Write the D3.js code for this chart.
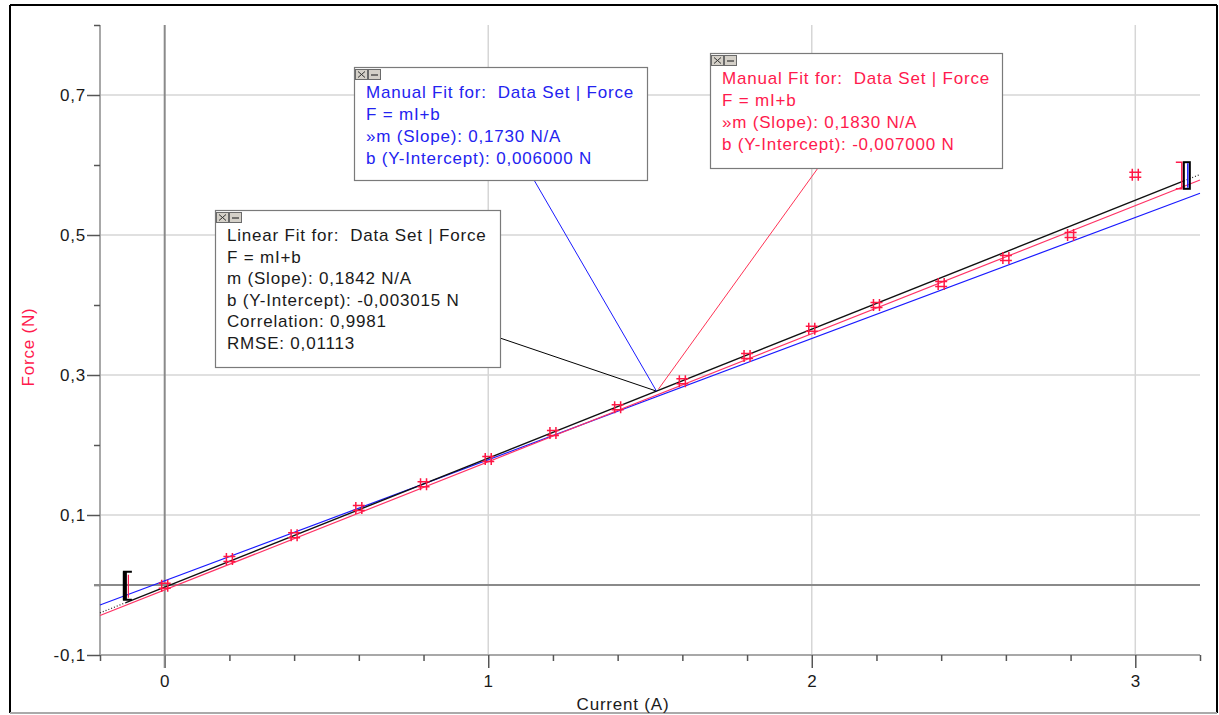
<!DOCTYPE html>
<html>
<head>
<meta charset="utf-8">
<script src="https://cdn.jsdelivr.net/npm/d3@7"></script>
<style>
  html, body { margin: 0; padding: 0; background: #ffffff; }
  svg { display: block; font-family: "Liberation Sans", Arial, sans-serif; }
</style>
</head>
<body>
<svg id="chart" width="1219" height="715"></svg>
<script>
// ---------- data ----------
const currents = [0, 0.2, 0.4, 0.6, 0.8, 1.0, 1.2, 1.4, 1.6, 1.8, 2.0, 2.2, 2.4, 2.6, 2.8, 3.0];
const forces   = [-0.001, 0.037, 0.071, 0.110, 0.144, 0.180, 0.217, 0.254, 0.291, 0.327, 0.366, 0.400, 0.430, 0.467, 0.500, 0.586];

const xMajorTicks = [0, 1, 2, 3];
const xMinorTicks = [-0.2, 0.2, 0.4, 0.6, 0.8, 1.2, 1.4, 1.6, 1.8, 2.2, 2.4, 2.6, 2.8, 3.2];
const yMajorTicks = [-0.1, 0.1, 0.3, 0.5, 0.7];
const yMinorTicks = [0, 0.2, 0.4, 0.6, 0.8];

// fits: slope m, intercept b
const fitLinear = { m: 0.1842, b: -0.003015 };
const fitBlue   = { m: 0.1730, b: 0.006 };
const fitRed    = { m: 0.1830, b: -0.007 };
const fitRange  = [-0.12, 3.15];       // bracket x positions (A)
const bracketYs = [[-0.021, 0.019], [0.566, 0.604]];
const pointerX  = 1.52;

const linearText = ["Linear Fit for:  Data Set | Force", "F = mI+b", "m (Slope): 0,1842 N/A",
  "b (Y-Intercept): -0,003015 N", "Correlation: 0,9981", "RMSE: 0,01113"];
const blueText = ["Manual Fit for:  Data Set | Force", "F = mI+b", "\u00bbm (Slope): 0,1730 N/A",
  "b (Y-Intercept): 0,006000 N"];
const redText = ["Manual Fit for:  Data Set | Force", "F = mI+b", "\u00bbm (Slope): 0,1830 N/A",
  "b (Y-Intercept): -0,007000 N"];

// ---------- setup ----------
const svg = d3.select("#chart");
const x = d3.scaleLinear().domain([-0.2, 3.2]).range([100, 1200]);
const y = d3.scaleLinear().domain([-0.1, 0.8]).range([655, 25]);
const fmt = d3.format(".1f");
const comma = v => fmt(v).replace(".", ",").replace("\u2212", "-");

const BLUE = "#1a1aff", RED = "#ff1a4d", BLACK = "#1a1a1a";
const FS = "17px", LS = "0.8px";

// outer frame
svg.append("line").attr("x1", 10).attr("y1", 5).attr("x2", 1217).attr("y2", 5).attr("stroke", "#000").attr("stroke-width", 2);
svg.append("line").attr("x1", 10).attr("y1", 5).attr("x2", 10).attr("y2", 713).attr("stroke", "#000").attr("stroke-width", 2);
svg.append("line").attr("x1", 1217).attr("y1", 5).attr("x2", 1217).attr("y2", 713).attr("stroke", "#000").attr("stroke-width", 2);
svg.append("line").attr("x1", 10).attr("y1", 713).attr("x2", 1217).attr("y2", 713).attr("stroke", "#aaa").attr("stroke-width", 2);

// gridlines
const grid = svg.append("g");
grid.selectAll(".gx").data(xMajorTicks.filter(d => d !== 0)).join("line")
  .attr("x1", d => x(d)).attr("x2", d => x(d)).attr("y1", y(0.8)).attr("y2", y(-0.1))
  .attr("stroke", "#d6d6d6").attr("stroke-width", 1.5);
grid.selectAll(".gy").data(yMajorTicks.filter(d => d > -0.1)).join("line")
  .attr("x1", x(-0.2)).attr("x2", x(3.2)).attr("y1", d => y(d)).attr("y2", d => y(d))
  .attr("stroke", "#d6d6d6").attr("stroke-width", 1.5);

// axes
function styleAxis(g) {
  g.select(".domain").remove();
  g.selectAll(".tick line").attr("stroke", "#555").attr("stroke-width", 1.5);
  g.selectAll(".tick text").attr("fill", BLACK).style("font-size", FS).style("letter-spacing", LS)
    .style("font-family", "'Liberation Sans', Arial, sans-serif");
}
svg.append("line").attr("x1", x(-0.2)).attr("x2", x(3.2)).attr("y1", y(-0.1)).attr("y2", y(-0.1))
  .attr("stroke", "#a8a8a8").attr("stroke-width", 2);
svg.append("line").attr("x1", x(-0.2)).attr("x2", x(-0.2)).attr("y1", y(0.8)).attr("y2", y(-0.1))
  .attr("stroke", "#a8a8a8").attr("stroke-width", 2);

svg.append("g").attr("transform", `translate(0,${y(-0.1)})`)
  .call(d3.axisBottom(x).tickValues(xMinorTicks).tickSize(6).tickSizeOuter(0).tickFormat(""))
  .call(styleAxis);
svg.append("g").attr("transform", `translate(0,${y(-0.1)})`)
  .call(d3.axisBottom(x).tickValues(xMajorTicks).tickSize(13).tickSizeOuter(0).tickPadding(7).tickFormat(d3.format("d")))
  .call(styleAxis);
svg.append("g").attr("transform", `translate(${x(-0.2)},0)`)
  .call(d3.axisLeft(y).tickValues(yMinorTicks).tickSize(6).tickSizeOuter(0).tickFormat(""))
  .call(styleAxis);
svg.append("g").attr("transform", `translate(${x(-0.2)},0)`)
  .call(d3.axisLeft(y).tickValues(yMajorTicks).tickSize(13).tickSizeOuter(0).tickPadding(1).tickFormat(comma))
  .call(styleAxis);

// zero lines
svg.append("line").attr("x1", x(0)).attr("x2", x(0)).attr("y1", y(0.8)).attr("y2", y(-0.1) + 13)
  .attr("stroke", "#8a8a8a").attr("stroke-width", 2);
svg.append("line").attr("x1", x(-0.2) - 6).attr("x2", x(3.2)).attr("y1", y(0)).attr("y2", y(0))
  .attr("stroke", "#8a8a8a").attr("stroke-width", 2);

// axis titles
svg.append("text").attr("x", 623).attr("y", 710).attr("text-anchor", "middle")
  .style("font-size", FS).style("letter-spacing", LS).attr("fill", BLACK).text("Current (A)");
svg.append("text").attr("transform", "translate(34,347) rotate(-90)").attr("text-anchor", "middle")
  .style("font-size", FS).style("letter-spacing", LS).attr("fill", RED).text("Force (N)");

// fit lines
const line = d3.line().x(d => x(d[0])).y(d => y(d[1]));
const seg = (f, a, b) => [[a, f.m * a + f.b], [b, f.m * b + f.b]];
svg.append("path").attr("d", line(seg(fitBlue, -0.2, 3.2))).attr("stroke", BLUE).attr("stroke-width", 1.2).attr("fill", "none");
svg.append("path").attr("d", line(seg(fitRed, -0.2, 3.2))).attr("stroke", "#ff3366").attr("stroke-width", 1.2).attr("fill", "none");
svg.append("path").attr("d", line(seg(fitLinear, fitRange[0], fitRange[1]))).attr("stroke", "#111").attr("stroke-width", 1.4).attr("fill", "none");
[[-0.2, fitRange[0]], [fitRange[1], 3.2]].forEach(r => {
  svg.append("path").attr("d", line(seg(fitLinear, r[0], r[1]))).attr("stroke", "#222")
    .attr("stroke-width", 1.2).attr("stroke-dasharray", "1,2").attr("fill", "none");
});

// range brackets
(function () {
  const lx = x(fitRange[0]), ly0 = y(bracketYs[0][1]), ly1 = y(bracketYs[0][0]);
  svg.append("path").attr("d", `M${lx + 6},${ly0} H${lx - 2} V${ly1} H${lx + 6}`)
    .attr("stroke", "#000").attr("stroke-width", 2).attr("fill", "none");
  svg.append("line").attr("x1", lx - 1).attr("x2", lx - 1).attr("y1", ly0).attr("y2", ly1).attr("stroke", "#000").attr("stroke-width", 4);
  svg.append("line").attr("x1", lx + 2.5).attr("x2", lx + 2.5).attr("y1", ly0 + 3).attr("y2", ly1 - 2).attr("stroke", RED).attr("stroke-width", 1.2);
  const rx = x(fitRange[1]), ry0 = y(bracketYs[1][1]), ry1 = y(bracketYs[1][0]);
  svg.append("path").attr("d", `M${rx - 8},${ry0} H${rx - 2} V${ry1} H${rx - 8}`)
    .attr("stroke", RED).attr("stroke-width", 1.5).attr("fill", "none");
  svg.append("rect").attr("x", rx).attr("y", ry0).attr("width", 6).attr("height", ry1 - ry0)
    .attr("stroke", "#000").attr("stroke-width", 2).attr("fill", "none");
  svg.append("line").attr("x1", rx + 4).attr("x2", rx + 4).attr("y1", ry0 + 1).attr("y2", ry1 - 1).attr("stroke", BLUE).attr("stroke-width", 1.5);
})();

// data markers (#)
const marker = svg.append("g").attr("stroke", "#ff1744").attr("stroke-width", 1.5).attr("fill", "none");
currents.forEach((c, i) => {
  const px = x(c), py = y(forces[i]);
  const p = d3.path();
  p.moveTo(px - 3, py - 6); p.lineTo(px - 3, py + 6);
  p.moveTo(px + 3, py - 6); p.lineTo(px + 3, py + 6);
  p.moveTo(px - 6, py - 2.5); p.lineTo(px + 6, py - 2.5);
  p.moveTo(px - 6, py + 2.5); p.lineTo(px + 6, py + 2.5);
  marker.append("path").attr("d", p.toString());
});

// leader lines
const tx = x(pointerX), ty = y(fitLinear.m * pointerX + fitLinear.b);
svg.append("line").attr("x1", 500).attr("y1", 338).attr("x2", tx).attr("y2", ty).attr("stroke", "#000").attr("stroke-width", 1);
svg.append("line").attr("x1", 534).attr("y1", 180).attr("x2", tx).attr("y2", ty).attr("stroke", BLUE).attr("stroke-width", 1);
svg.append("line").attr("x1", 818).attr("y1", 168).attr("x2", tx + 2).attr("y2", ty - 2).attr("stroke", "#ff3355").attr("stroke-width", 1);

// annotation boxes
function box(bx, by, bw, bh, lines, color, firstBaseline, step) {
  const g = svg.append("g");
  g.append("rect").attr("x", bx + 0.5).attr("y", by + 0.5).attr("width", bw).attr("height", bh)
    .attr("fill", "#fff").attr("stroke", "#7a7a7a").attr("stroke-width", 1.2);
  [0, 1].forEach(k => {
    const btx = bx + 1 + k * 13, bty = by + 2;
    g.append("rect").attr("x", btx + 0.5).attr("y", bty + 0.5).attr("width", 12).attr("height", 10)
      .attr("fill", "#d4d0c8").attr("stroke", "#6a6a6a").attr("stroke-width", 1);
    if (k === 0) {
      g.append("path").attr("d", `M${btx + 3},${bty + 2.5} L${btx + 10},${bty + 8.5} M${btx + 10},${bty + 2.5} L${btx + 3},${bty + 8.5}`)
        .attr("stroke", "#333").attr("stroke-width", 1);
    } else {
      g.append("line").attr("x1", btx + 3).attr("x2", btx + 10).attr("y1", bty + 6).attr("y2", bty + 6)
        .attr("stroke", "#333").attr("stroke-width", 1.2);
    }
  });
  lines.forEach((t, i) => {
    g.append("text").attr("x", bx + 12).attr("y", firstBaseline + i * step)
      .attr("xml:space", "preserve").style("white-space", "pre")
      .style("font-size", FS).style("letter-spacing", LS).attr("fill", color).text(t);
  });
}
box(215, 210, 285, 157, linearText, BLACK, 241, 21.6);
box(354, 67, 293, 113, blueText, "#2323f0", 98, 22);
box(710, 53, 292, 115, redText, RED, 84, 22);
</script>
</body>
</html>
